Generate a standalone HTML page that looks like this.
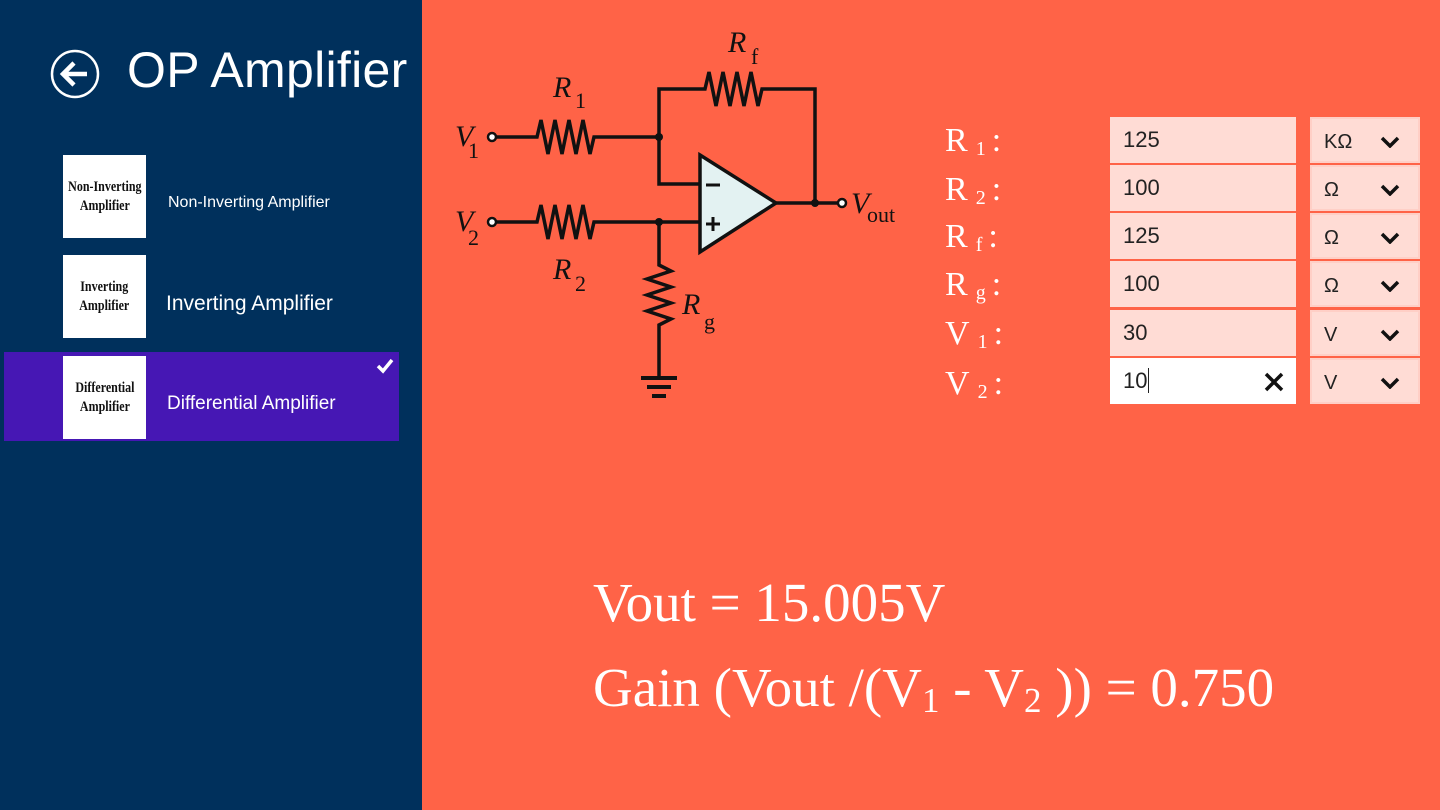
<!DOCTYPE html>
<html><head><meta charset="utf-8"><style>
*{margin:0;padding:0;box-sizing:border-box}
body{width:1440px;height:810px;overflow:hidden;background:#ff6347;font-family:"Liberation Sans",sans-serif;position:relative}
#left{position:absolute;left:0;top:0;width:422px;height:810px;background:#00305c}
.abs{position:absolute}
.title{left:127px;top:41px;font-size:50px;color:#fff;letter-spacing:0.3px}
.thumb{position:absolute;left:63px;width:83px;height:83px;background:#fff;font-family:"Liberation Serif",serif;font-size:15px;line-height:19px;text-align:center;color:#111;display:flex;align-items:center;justify-content:center;font-weight:bold}
.thumb span{display:inline-block;transform:scaleX(0.8);white-space:nowrap}
.item{position:absolute;color:#fff}
.lab{position:absolute;left:945px;color:#fff;font-family:"Liberation Serif",serif;font-size:34px}
.lab sub{font-size:20px;vertical-align:-4px;margin:0 6px 0 8px}
.in{position:absolute;left:1110px;width:186px;height:46px;background:#ffdcd5;font-size:22px;color:#222;padding:10px 0 0 13px}
.dd{position:absolute;left:1310px;width:110px;height:46px;background:#ffdcd5;border:2px solid #ffcfc6;font-size:20px;color:#222;padding:12px 0 0 12px}
.dd svg{position:absolute;right:18px;top:17px}
.res{position:absolute;left:593px;color:#fff;font-family:"Liberation Serif",serif;font-size:55px}
.res sub{font-size:35px;vertical-align:-6px}
</style></head><body>
<div id="left"></div>
<svg class="abs" style="left:50px;top:49px" width="52" height="52"><circle cx="25" cy="25" r="23" fill="none" stroke="#fff" stroke-width="2.5"/><path d="M13 25h24M24 14 13 25l11 11" fill="none" stroke="#fff" stroke-width="4.5"/></svg>
<div class="abs title">OP Amplifier</div>
<div class="thumb" style="top:155px"><span>Non-Inverting<br>Amplifier</span></div>
<div class="item" style="left:168px;top:194px;font-size:16px">Non-Inverting Amplifier</div>
<div class="thumb" style="top:255px"><span>Inverting<br>Amplifier</span></div>
<div class="item" style="left:166px;top:292px;font-size:21px">Inverting Amplifier</div>
<div class="abs" style="left:4px;top:352px;width:395px;height:89px;background:#4617b4"></div>
<div class="thumb" style="top:356px"><span>Differential<br>Amplifier</span></div>
<div class="item" style="left:167px;top:393px;font-size:19px">Differential Amplifier</div>
<svg class="abs" style="left:376px;top:358px" width="18" height="16"><path d="M2 8l5 5 9-11" fill="none" stroke="#fff" stroke-width="3.5"/></svg>

<svg class="abs" style="left:440px;top:20px" width="480" height="390" viewBox="440 20 480 390">
<g fill="none" stroke="#111" stroke-width="3.5" stroke-linejoin="miter">
<path d="M496 137H537l4 -17 7 34 7 -34 7 34 7 -34 7 34 7 -34 7 34 4 -17H659"/>
<path d="M496 222H537l4 -17 7 34 7 -34 7 34 7 -34 7 34 7 -34 7 34 4 -17H700"/>
<path d="M659 137V89H705l4 -17 7 34 7 -34 7 34 7 -34 7 34 7 -34 7 34 4 -17H815V203"/>
<path d="M659 137V184H700"/>
<path d="M776 203H838"/>
<path d="M659 222V265l12 6 -24 8 24 8 -24 8 24 8 -24 8 24 8 -12 6V378"/>
<path d="M700 155L776 203L700 252Z" fill="#e3f2f2"/>
<path d="M641 378h36M647 387h24M652 396h14" stroke-width="4"/>
<path d="M706 185h14M706 224h14M713 217v14" stroke-width="3"/>
<circle cx="492" cy="137" r="4" fill="#fff" stroke-width="2.5"/>
<circle cx="492" cy="222" r="4" fill="#fff" stroke-width="2.5"/>
<circle cx="842" cy="203" r="4" fill="#fff" stroke-width="2.5"/>
</g>
<g fill="#111"><circle cx="659" cy="137" r="4"/><circle cx="659" cy="222" r="4"/><circle cx="815" cy="203" r="4"/></g>
<g font-family="Liberation Serif,serif" fill="#111" font-size="30">
<text x="455" y="146" font-style="italic">V</text><text x="468" y="158" font-size="22">1</text>
<text x="455" y="231" font-style="italic">V</text><text x="468" y="245" font-size="22">2</text>
<text x="553" y="97" font-style="italic">R</text><text x="575" y="108" font-size="22">1</text>
<text x="553" y="279" font-style="italic">R</text><text x="575" y="291" font-size="22">2</text>
<text x="728" y="52" font-style="italic">R</text><text x="751" y="64" font-size="22">f</text>
<text x="682" y="314" font-style="italic">R</text><text x="704" y="329" font-size="22">g</text>
<text x="851" y="213" font-style="italic">V</text><text x="867" y="222" font-size="22">out</text>
</g>
</svg>

<div class="lab" style="top:122px">R<sub>1</sub>:</div>
<div class="lab" style="top:171px">R<sub>2</sub>:</div>
<div class="lab" style="top:218px">R<sub>f</sub>:</div>
<div class="lab" style="top:266px">R<sub>g</sub>:</div>
<div class="lab" style="top:315px">V<sub>1</sub>:</div>
<div class="lab" style="top:365px">V<sub>2</sub>:</div>

<div class="in" style="top:117px">125</div>
<div class="in" style="top:165px">100</div>
<div class="in" style="top:213px">125</div>
<div class="in" style="top:261px">100</div>
<div class="in" style="top:310px">30</div>
<div class="in" style="top:358px;background:#fff">10<span style="border-left:1.5px solid #222;margin-left:1px"></span>
<svg style="position:absolute;right:12px;top:14px" width="20" height="20"><path d="M2 2l16 16M18 2 2 18" stroke="#111" stroke-width="3.5"/></svg></div>

<div class="dd" style="top:117px">KΩ<svg width="20" height="12"><path d="M2 2l8 8 8-8" fill="none" stroke="#111" stroke-width="3.5"/></svg></div>
<div class="dd" style="top:165px">Ω<svg width="20" height="12"><path d="M2 2l8 8 8-8" fill="none" stroke="#111" stroke-width="3.5"/></svg></div>
<div class="dd" style="top:213px">Ω<svg width="20" height="12"><path d="M2 2l8 8 8-8" fill="none" stroke="#111" stroke-width="3.5"/></svg></div>
<div class="dd" style="top:261px">Ω<svg width="20" height="12"><path d="M2 2l8 8 8-8" fill="none" stroke="#111" stroke-width="3.5"/></svg></div>
<div class="dd" style="top:310px">V<svg width="20" height="12"><path d="M2 2l8 8 8-8" fill="none" stroke="#111" stroke-width="3.5"/></svg></div>
<div class="dd" style="top:358px">V<svg width="20" height="12"><path d="M2 2l8 8 8-8" fill="none" stroke="#111" stroke-width="3.5"/></svg></div>

<div class="res" style="top:571px">Vout = 15.005V</div>
<div class="res" style="top:656px">Gain (Vout /(V<sub>1</sub> - V<sub>2</sub> )) = 0.750</div>
</body></html>
